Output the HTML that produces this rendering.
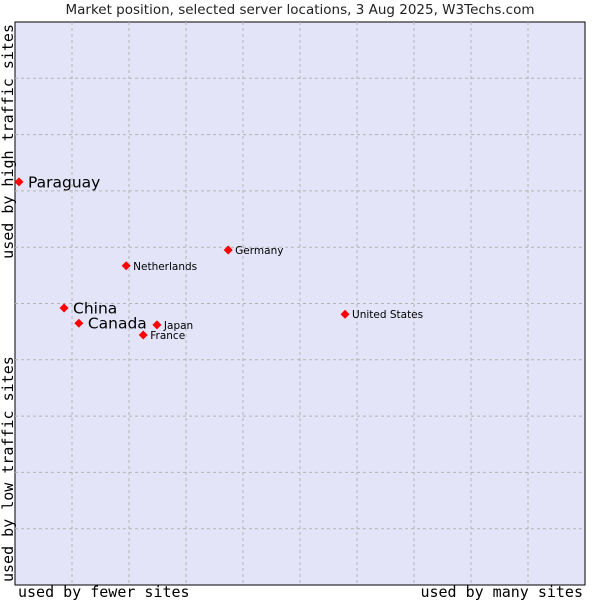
<!DOCTYPE html>
<html><head><meta charset="utf-8"><style>
body{margin:0;background:#fff;width:600px;height:600px;overflow:hidden}
svg text{font-family:"DejaVu Sans","Liberation Sans",sans-serif}
svg text.mono{font-family:"DejaVu Sans Mono",monospace}
</style></head><body>
<svg id="c" width="600" height="600">
<text x="300" y="14" text-anchor="middle" font-size="13.5" fill="#222">Market position, selected server locations, 3 Aug 2025, W3Techs.com</text>
<rect x="15" y="22" width="570" height="563" fill="#e3e4f8" stroke="#000" stroke-width="1"/>
<g id="grid"></g>
<g id="pts"></g>
<text class="mono" x="18" y="597" font-size="15" fill="#000">used by fewer sites</text>
<text class="mono" x="583" y="597" text-anchor="end" font-size="15" fill="#000">used by many sites</text>
<text class="mono" transform="translate(13,582) rotate(-90)" font-size="15" fill="#000">used by low traffic sites</text>
<text class="mono" transform="translate(13,24) rotate(-90)" text-anchor="end" font-size="15" fill="#000">used by high traffic sites</text>
</svg>
<script>
const names=["Paraguay","China","Canada","Netherlands","Germany","Japan","France","United States"];
const xVals=[0.7,8.6,11.2,19.5,37.4,24.9,22.5,57.9];
const yVals=[71.6,49.2,46.5,56.7,59.5,46.2,44.4,48.1];
const bigLabel=[1,1,1,0,0,0,0,0];
const X0=15,X1=585,Y0=585,Y1=22;
const sx=v=>X0+v/100*(X1-X0), sy=v=>Y0-v/100*(Y0-Y1);
const NS="http://www.w3.org/2000/svg";
const g=document.getElementById('grid');
for(let i=1;i<10;i++){
 const v=document.createElementNS(NS,'line');
 v.setAttribute('x1',sx(i*10));v.setAttribute('x2',sx(i*10));v.setAttribute('y1',Y1);v.setAttribute('y2',Y0);
 v.setAttribute('stroke','#b4b4b4');v.setAttribute('stroke-dasharray','3,3');
 
 
 g.appendChild(v);
 const h=document.createElementNS(NS,'line');
 h.setAttribute('y1',sy(i*10));h.setAttribute('y2',sy(i*10));h.setAttribute('x1',X0);h.setAttribute('x2',X1);
 h.setAttribute('stroke','#b4b4b4');h.setAttribute('stroke-dasharray','3,3');
 
 
 g.appendChild(h);
}
const p=document.getElementById('pts');
names.forEach((n,i)=>{
 const x=sx(xVals[i]),y=sy(yVals[i]);
 const d=document.createElementNS(NS,'path');
 d.setAttribute('d',`M${x} ${y-4.5}L${x+4.5} ${y}L${x} ${y+4.5}L${x-4.5} ${y}Z`);
 d.setAttribute('fill','#f00');
 
 
 p.appendChild(d);
 const t=document.createElementNS(NS,'text');
 t.setAttribute('x',x+(bigLabel[i]?9:7));
 t.setAttribute('y',y+(bigLabel[i]?5.5:4));
 t.setAttribute('font-size',bigLabel[i]?15.5:10.5);
 t.setAttribute('fill','#000');
 t.textContent=n;
 
 
 p.appendChild(t);
});
</script>
</body></html>
